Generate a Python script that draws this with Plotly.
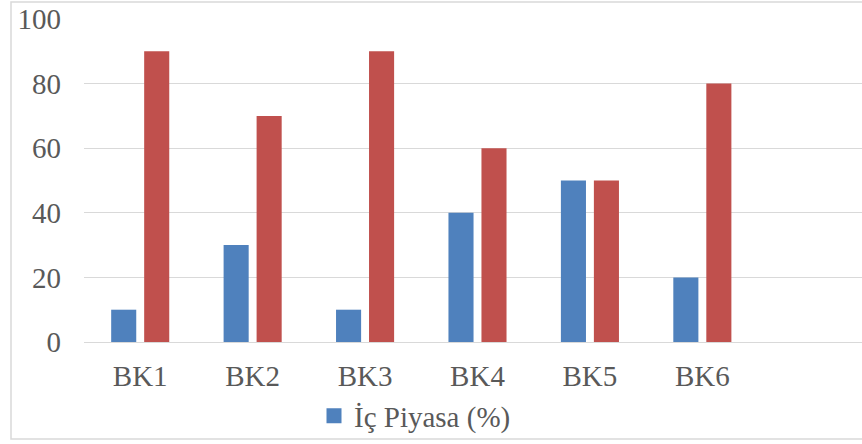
import plotly.graph_objects as go

categories = ["BK1", "BK2", "BK3", "BK4", "BK5", "BK6"]
ic_piyasa = [10, 30, 10, 40, 50, 20]
dis_piyasa = [90, 70, 90, 60, 50, 80]
y_ticks = [0, 20, 40, 60, 80, 100]

W, H = 862, 444
L, R, T, B = 84, 0, 18, 102
pw, ph = W - L - R, H - T - B

def px_x(x):  # screen x -> paper
    return (x - L) / pw

def px_y(y):  # screen y -> paper
    return (H - B - y) / ph

font = dict(family="Liberation Serif, Times New Roman, serif", size=29, color="#595959")

fig = go.Figure()
fig.add_trace(go.Bar(x=categories, y=ic_piyasa, name="İç Piyasa (%)", showlegend=False,
                     marker=dict(color="#4F81BD", line=dict(width=0))))
fig.add_trace(go.Bar(x=categories, y=dis_piyasa, name="Dış Piyasa (%)", showlegend=False,
                     marker=dict(color="#C0504D", line=dict(width=0))))
# legend entry with a larger square swatch
fig.add_trace(go.Scatter(x=[None], y=[None], mode="markers", name="İç Piyasa (%)",
                         marker=dict(symbol="square", size=15, color="#4F81BD")))

fig.update_layout(
    width=W, height=H,
    margin=dict(l=L, r=R, t=T, b=B, autoexpand=False),
    paper_bgcolor="white", plot_bgcolor="white",
    font=font,
    barmode="group", bargap=0.413, bargroupgap=0.24,
    showlegend=True,
    legend=dict(orientation="h", x=px_x(314), xanchor="left", y=px_y(416), yanchor="middle",
                font=font, bgcolor="rgba(0,0,0,0)", itemwidth=30),
    xaxis=dict(range=[-0.5, 6.42], showgrid=False, showline=False, zeroline=False,
               ticks="", ticklabelstandoff=14, tickfont=font, automargin=False),
    yaxis=dict(range=[0, 100.3], tickvals=y_ticks, showgrid=True, gridcolor="#D9D9D9", gridwidth=1.3,
               zeroline=True, zerolinecolor="#D9D9D9", zerolinewidth=1.3, showline=False,
               ticks="", ticklabelstandoff=22, tickfont=font, automargin=False,
               ticklabeloverflow="allow"),
    shapes=[dict(type="rect", xref="paper", yref="paper",
                 x0=px_x(11), x1=px_x(880), y0=px_y(439), y1=px_y(2),
                 line=dict(color="#D9D9D9", width=1.5), fillcolor="rgba(0,0,0,0)", layer="below")],
)

fig.write_html("out.html", config={"displayModeBar": False},
               post_script="document.body.style.margin='0';document.body.style.overflow='hidden';")
